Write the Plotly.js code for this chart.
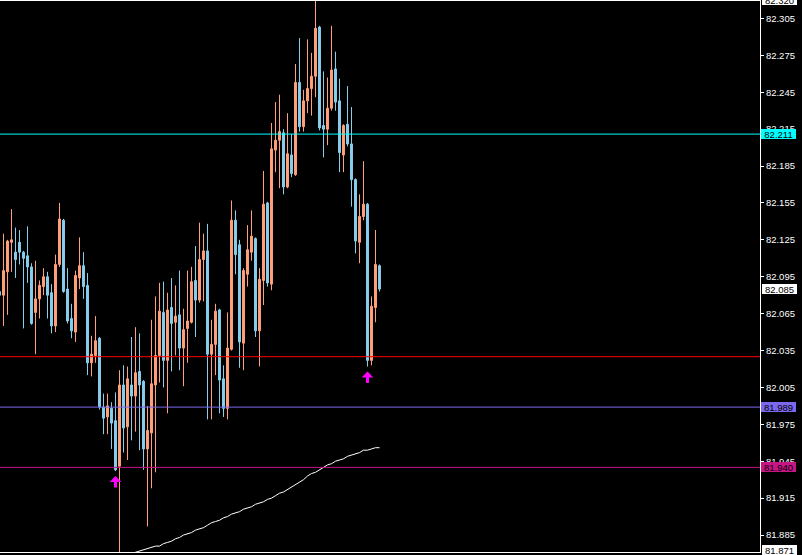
<!DOCTYPE html>
<html>
<head>
<meta charset="utf-8">
<script src="https://cdn.plot.ly/plotly-3.0.1.min.js"></script>
<style>html,body{margin:0;padding:0;background:#000;}#chart{width:802px;height:555px;}</style>
</head>
<body>
<div id="chart"></div>
<script>
// Bar index (oldest on the left)
const barIndex = Array.from({length: 96}, (_, i) => i);
const openPrices = [82.083,82.080,82.099,82.123,82.115,82.123,82.115,82.112,82.103,82.066,82.077,82.087,82.095,82.082,82.055,82.105,82.141,82.085,82.061,82.050,
82.094,82.104,82.088,82.025,82.031,82.045,81.989,81.981,81.988,81.978,81.941,82.007,81.973,82.007,81.998,82.018,82.010,81.955,81.968,82.007,
82.031,82.066,82.027,82.070,82.058,82.064,82.037,82.053,82.058,82.092,82.076,82.109,82.116,82.032,82.040,82.068,82.012,81.988,82.036,82.141,
82.121,82.041,82.097,82.115,82.126,82.051,82.092,82.155,82.089,82.198,82.206,82.212,82.168,82.194,82.178,82.253,82.217,82.238,82.248,82.258,
82.298,82.218,82.215,82.232,82.264,82.238,82.194,82.219,82.203,82.174,82.123,82.144,82.154,82.027,82.070,82.104];
const highPrices = [82.086,82.130,82.125,82.150,82.135,82.133,82.116,82.136,82.106,82.108,82.092,82.102,82.099,82.089,82.113,82.155,82.142,82.102,82.073,82.100,
82.127,82.115,82.098,82.047,82.063,82.046,82.000,82.000,81.993,82.001,82.019,82.023,82.022,82.046,82.054,82.049,82.011,81.990,82.060,82.079,
82.090,82.091,82.082,82.094,82.088,82.100,82.069,82.100,82.103,82.120,82.139,82.130,82.138,82.060,82.073,82.069,82.023,82.066,82.157,82.149,
82.125,82.102,82.137,82.149,82.127,82.102,82.181,82.156,82.220,82.237,82.243,82.215,82.228,82.211,82.268,82.289,82.247,82.288,82.277,82.320,
82.299,82.262,82.257,82.299,82.278,82.256,82.219,82.250,82.233,82.175,82.162,82.189,82.155,82.079,82.133,82.105];
const lowPrices = [82.078,82.055,82.064,82.099,82.094,82.105,82.053,82.090,82.056,82.032,82.061,82.080,82.061,82.049,82.050,82.103,82.082,82.057,82.045,82.042,
82.085,82.077,82.015,82.014,82.025,81.987,81.967,81.967,81.955,81.937,81.871,81.952,81.946,81.962,81.969,81.954,81.938,81.892,81.923,81.936,
82.009,82.005,81.984,82.018,82.031,82.019,82.006,82.025,82.057,82.046,82.074,82.075,81.979,81.979,82.015,81.984,81.981,81.979,82.035,82.097,
82.021,82.019,82.087,82.108,82.046,82.022,82.072,82.087,82.084,82.180,82.167,82.162,82.167,82.176,82.177,82.213,82.213,82.228,82.226,82.241,
82.214,82.192,82.202,82.230,82.230,82.180,82.180,82.201,82.152,82.114,82.106,82.141,82.022,82.023,82.058,82.083];
const closePrices = [82.080,82.100,82.124,82.125,82.109,82.115,82.110,82.103,82.057,82.077,82.088,82.095,82.080,82.055,82.105,82.142,82.083,82.059,82.051,82.096,
82.104,82.087,82.025,82.032,82.043,81.989,81.980,81.990,81.976,81.938,82.007,81.972,82.012,81.998,82.017,82.007,81.955,81.970,82.008,82.031,
82.067,82.027,82.068,82.057,82.063,82.037,82.052,82.059,82.091,82.076,82.109,82.116,82.032,82.040,82.067,82.011,81.988,82.037,82.141,82.113,
82.042,82.100,82.117,82.128,82.051,82.093,82.154,82.090,82.199,82.206,82.213,82.168,82.195,82.179,82.253,82.217,82.238,82.248,82.258,82.297,
82.216,82.215,82.232,82.263,82.237,82.196,82.218,82.203,82.174,82.124,82.144,82.154,82.027,82.071,82.105,82.085];

// Moving average (visible part), starting at bar 30
const maIndex = Array.from({length: 66}, (_, i) => i + 30);
const maValues = [81.865,81.867,81.868,81.869,81.871,81.872,81.873,81.874,81.875,81.876,
81.876,81.878,81.879,81.880,81.882,81.883,81.885,81.886,81.887,81.889,
81.890,81.891,81.893,81.895,81.896,81.897,81.899,81.900,81.902,81.903,
81.904,81.906,81.907,81.908,81.910,81.911,81.912,81.914,81.915,81.917,
81.919,81.920,81.922,81.924,81.926,81.928,81.930,81.933,81.935,81.936,
81.938,81.940,81.942,81.943,81.945,81.946,81.947,81.949,81.950,81.951,
81.952,81.954,81.954,81.955,81.956,81.956];

// Horizontal levels
const levelValues = [82.211, 82.030, 81.989, 81.940];
const levelColors = ['#00ffff', '#ff0000', '#7b68ee', '#c71585'];
const levelLabeled = [true, false, true, true];

// Signal arrows (bars with up arrows)
const signalBars = [29, 92];

// Price scale
const tickValues = [82.305,82.275,82.245,82.215,82.185,82.155,82.125,82.095,82.065,82.035,82.005,81.975,81.945,81.915,81.885];
const scaleMax = 82.320, scaleMin = 81.871, lastPrice = 82.085;

const upColor = '#ffa07a', downColor = '#87ceeb';

const traces = [
  {
    type: 'candlestick', x: barIndex, open: openPrices, high: highPrices, low: lowPrices, close: closePrices,
    increasing: {line: {color: upColor, width: 1}, fillcolor: upColor},
    decreasing: {line: {color: downColor, width: 1}, fillcolor: downColor},
    whiskerwidth: 0, hoverinfo: 'skip', showlegend: false
  },
  {
    type: 'scatter', mode: 'lines', x: maIndex, y: maValues,
    line: {color: '#ffffff', width: 1, shape: 'linear'}, hoverinfo: 'skip', showlegend: false
  }
];

const shapes = levelValues.map((v, i) => ({
  type: 'line', xref: 'paper', x0: 0, x1: 1, yref: 'y', y0: v, y1: v,
  line: {color: levelColors[i], width: 1}, layer: 'above'
}));

const fontFam = 'Liberation Sans, Arial, sans-serif';
function priceBox(v, bg, fg, border, yref, ypos, yshift) {
  return {
    xref: 'paper', x: 1, xanchor: 'left', xshift: 1,
    yref: yref || 'y', y: (ypos === undefined ? v : ypos), yanchor: 'middle', yshift: yshift || 0,
    text: v.toFixed(3), showarrow: false,
    font: {family: fontFam, size: 9.5, color: fg},
    bgcolor: bg, bordercolor: border || bg, borderwidth: border ? 1 : 0,
    borderpad: 0, width: 35, height: 10, align: 'center'
  };
}
const annotations = [];
levelValues.forEach((v, i) => { if (levelLabeled[i]) annotations.push(priceBox(v, levelColors[i], '#000', null)); });
annotations.push(priceBox(lastPrice, '#ffffff', '#000', '#000'));
annotations.push(priceBox(scaleMax, '#ffffff', '#000', '#000', 'paper', 1, 1));
annotations.push(priceBox(scaleMin, '#ffffff', '#000', '#000', 'paper', 0, 2));
signalBars.forEach(b => {
  annotations.push({
    xref: 'x', x: barIndex[b], yref: 'y', y: lowPrices[b], yshift: -5,
    showarrow: true, ax: 0, ay: 13, axref: 'pixel', ayref: 'pixel',
    arrowcolor: '#ff00ff', arrowwidth: 3, arrowhead: 1, arrowsize: 0.65, text: ''
  });
});

const layout = {
  width: 802, height: 555,
  margin: {l: 0, r: 42, t: 1, b: 3, pad: 0},
  paper_bgcolor: '#000', plot_bgcolor: '#000',
  showlegend: false, dragmode: false, boxgap: 0.3,
  xaxis: {
    range: [0.125, 190.125], showgrid: false, zeroline: false, showticklabels: false, ticks: '',
    showline: true, mirror: true, linecolor: '#ffffff', linewidth: 1,
    rangeslider: {visible: false}, fixedrange: true
  },
  yaxis: {
    side: 'right', range: [81.8712, 82.3192], tickmode: 'array', tickvals: tickValues,
    ticktext: tickValues.map(v => v.toFixed(3)),
    ticks: 'outside', ticklen: 3, tickwidth: 1, tickcolor: '#ffffff',
    showline: true, linecolor: '#ffffff', linewidth: 1, showgrid: false, zeroline: false,
    tickfont: {family: fontFam, size: 9.5, color: '#ffffff'}, fixedrange: true
  },
  shapes: shapes,
  annotations: annotations
};

Plotly.newPlot('chart', traces, layout, {displayModeBar: false, staticPlot: true});
</script>
</body>
</html>
